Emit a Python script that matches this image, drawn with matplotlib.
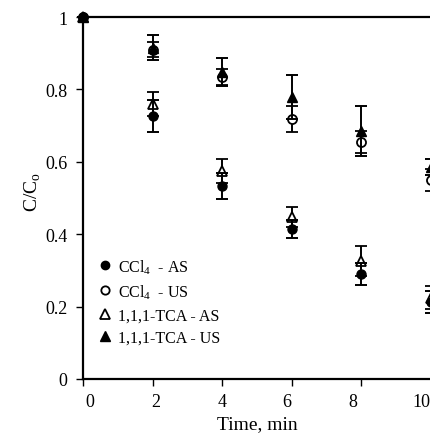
import numpy as np
import matplotlib
matplotlib.use("Agg")
import matplotlib.pyplot as plt
import matplotlib.transforms as mtransforms
from matplotlib.lines import Line2D
from matplotlib.ticker import FormatStrFormatter

plt.rcParams['font.family'] = ['Liberation Serif', 'DejaVu Serif']
plt.rcParams['mathtext.fontset'] = 'custom'
plt.rcParams['mathtext.rm'] = 'Liberation Serif'

# data
time = [0, 2, 4, 6, 8, 10]
ccl4_as = [1.0, 0.726, 0.533, 0.414, 0.290, 0.212]
ccl4_as_err = [0, 0.044, 0.036, 0.024, 0.030, 0.030]
ccl4_us = [1.0, 0.910, 0.833, 0.718, 0.655, 0.550]
ccl4_us_err = [0, 0.020, 0.022, 0.036, 0.031, 0.030]
tca_as = [1.0, 0.760, 0.575, 0.447, 0.326, 0.225]
tca_as_err = [0, 0.033, 0.033, 0.028, 0.041, 0.032]
tca_us = [1.0, 0.915, 0.848, 0.779, 0.685, 0.586]
tca_us_err = [0, 0.034, 0.039, 0.062, 0.069, 0.022]

fig = plt.figure(figsize=(4.30, 4.35), dpi=100)
ax = fig.add_axes([83/430, 1 - 380/435, 348/430, 362/435])

kw = dict(linestyle='none', color='black', ecolor='black', elinewidth=1.4,
          capsize=4.5, capthick=1.4, markersize=6.5, clip_on=False)

ax.errorbar(time, ccl4_us, yerr=ccl4_us_err, fmt='o', mfc='white', mec='black', mew=1.3,
            zorder=3, **kw)
ax.errorbar(time, tca_us, yerr=tca_us_err, fmt='^', mfc='black', zorder=4, **kw)
ax.errorbar(time, tca_as, yerr=tca_as_err, fmt='^', mfc='white', mec='black', mew=1.3,
            zorder=3, **kw)
ax.errorbar(time, ccl4_as, yerr=ccl4_as_err, fmt='o', mfc='black', zorder=4, **kw)

ax.set_xlim(0, 10)
ax.set_ylim(0, 1)
ax.set_xticks([0, 2, 4, 6, 8, 10])
ax.set_yticks([0, 0.2, 0.4, 0.6, 0.8, 1.0])
ax.yaxis.set_major_formatter(FormatStrFormatter('%g'))
for s in ['left', 'bottom', 'top']:
    ax.spines[s].set_linewidth(1.6)
ax.spines['right'].set_visible(False)
ax.tick_params(direction='out', length=5, width=1.0, labelsize=13, pad=6)
ax.tick_params(axis='x', pad=5)
ax.set_xlabel('Time, min', fontsize=14, labelpad=4)
ax.set_ylabel('C/C$_\\mathregular{o}$', fontsize=14, labelpad=2)
ax.yaxis.set_label_coords(-0.115, 0.52)

# x tick labels in the original are spaced a bit tighter than the ticks
shifts = [7, 3, 0, -5, -9, -10]
for lab, dx in zip(ax.get_xticklabels(), shifts):
    lab.set_transform(lab.get_transform() +
                      mtransforms.ScaledTranslation(dx / 100, 0, fig.dpi_scale_trans))

handles = [
    Line2D([], [], linestyle='none', marker='o', color='black', mfc='black', markersize=6),
    Line2D([], [], linestyle='none', marker='o', color='black', mfc='white', mew=1.3, markersize=6),
    Line2D([], [], linestyle='none', marker='^', color='black', mfc='white', mew=1.3, markersize=6.5),
    Line2D([], [], linestyle='none', marker='^', color='black', mfc='black', markersize=6.5),
]
labels = ['CCl$_\\mathregular{4}$  - AS', 'CCl$_\\mathregular{4}$  - US',
          '1,1,1-TCA - AS', '1,1,1-TCA - US']
ax.legend(handles, labels, loc='upper left', bbox_to_anchor=(100/430, 1 - 258/435),
          bbox_transform=fig.transFigure, frameon=False, fontsize=11.5,
          handlelength=0.6, handletextpad=0.5, labelspacing=0.4,
          borderaxespad=0, borderpad=0)

fig.savefig('out.png', dpi=100)
